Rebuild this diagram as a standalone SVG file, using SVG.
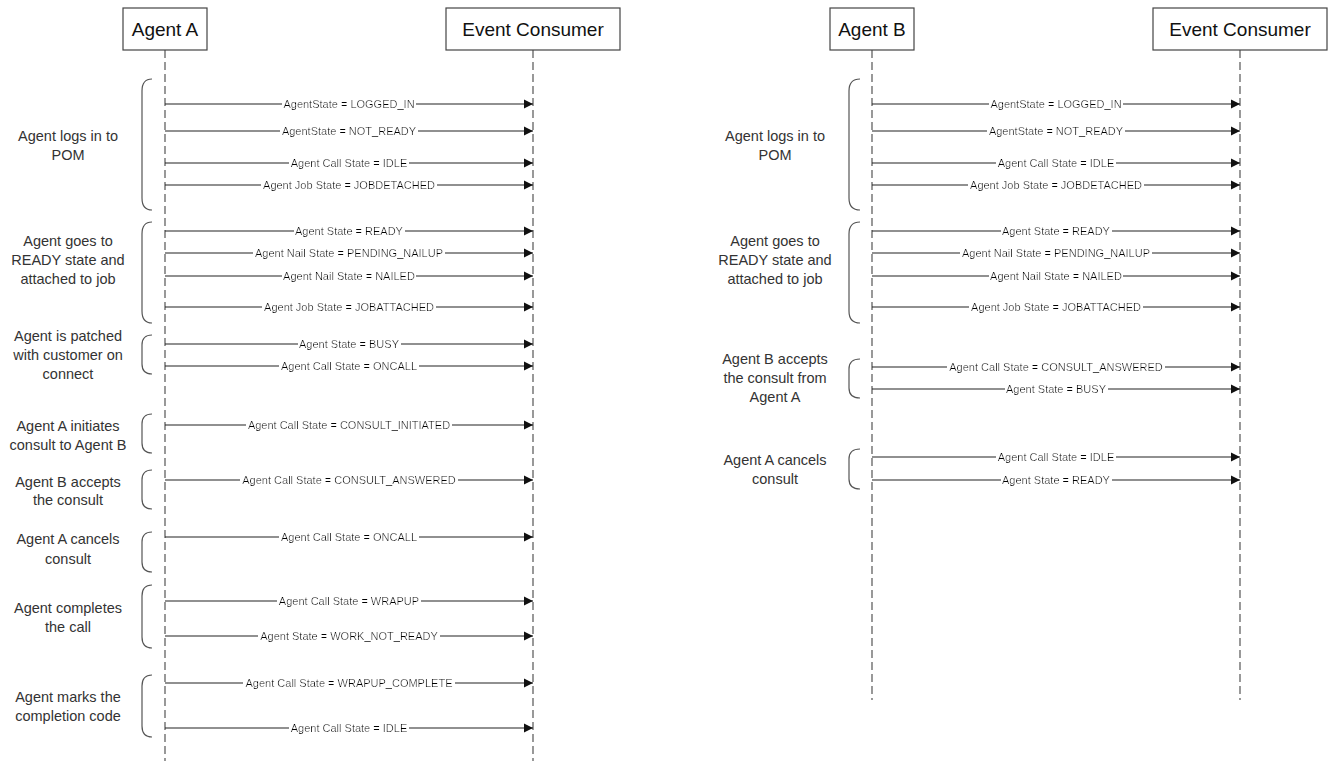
<svg xmlns="http://www.w3.org/2000/svg" width="1334" height="761" viewBox="0 0 1334 761">
  <style>
    .box { fill: #ffffff; stroke: #444444; stroke-width: 1.2; }
    .title { font-family: "Liberation Sans", Arial, sans-serif; font-size: 19px; fill: #111111; text-anchor: middle; }
    .life { stroke: #555555; stroke-width: 1.2; stroke-dasharray: 8 4; fill: none; }
    .msg { stroke: #222222; stroke-width: 1.2; fill: none; marker-end: url(#ah); }
    .lbl { font-family: "Liberation Sans", Arial, sans-serif; font-size: 11px; fill: #000000; text-anchor: middle; filter: url(#knock); }
    .brace { stroke: #555555; stroke-width: 1.2; fill: none; }
    .note { font-family: "Liberation Sans", Arial, sans-serif; font-size: 14.5px; fill: #333333; text-anchor: middle; }
  </style>
  <defs>
    <marker id="ah" markerWidth="10" markerHeight="10" refX="9" refY="5" orient="auto" markerUnits="userSpaceOnUse">
      <path d="M0,0.5 L9,5 L0,9.5 z" fill="#111111"/>
    </marker>
    <!-- white band behind message labels so the arrow line breaks around the text;
         the filter region covers the whole glyph box, only the flood is narrowed -->
    <filter id="knock" x="-0.05" y="-0.3" width="1.1" height="1.6" primitiveUnits="objectBoundingBox">
      <feFlood flood-color="#ffffff" x="-0.008" y="0.2" width="1.016" height="0.6" result="bg"/>
      <feMerge>
        <feMergeNode in="bg"/>
        <feMergeNode in="SourceGraphic"/>
      </feMerge>
    </filter>
  </defs>
  <rect width="1334" height="761" fill="#ffffff"/>

  <!-- lifelines -->
  <g id="lifelines">
    <line class="life" x1="165" y1="50" x2="165" y2="761"/>
    <line class="life" x1="533" y1="50" x2="533" y2="761"/>
    <line class="life" x1="872" y1="50" x2="872" y2="700"/>
    <line class="life" x1="1240" y1="50" x2="1240" y2="700"/>
  </g>

  <!-- participants -->
  <g id="agentA">
    <rect class="box" x="123" y="8" width="84" height="42"/>
    <text class="title" x="165" y="36">Agent A</text>
  </g>
  <g id="consumerA">
    <rect class="box" x="446" y="8" width="174" height="42"/>
    <text class="title" x="533" y="36">Event Consumer</text>
  </g>
  <g id="agentB">
    <rect class="box" x="830" y="8" width="84" height="42"/>
    <text class="title" x="872" y="36">Agent B</text>
  </g>
  <g id="consumerB">
    <rect class="box" x="1153" y="8" width="174" height="42"/>
    <text class="title" x="1240" y="36">Event Consumer</text>
  </g>

  <!-- phase braces and descriptions, Agent A -->
  <g id="phasesA">
    <path class="brace" d="M152,79 Q142,79 142,91 L142,198 Q142,210 152,210"/>
    <path class="brace" d="M152,222 Q142,222 142,234 L142,311 Q142,323 152,323"/>
    <path class="brace" d="M152,335 Q142,335 142,345 L142,364 Q142,374 152,374"/>
    <path class="brace" d="M152,414 Q142,414 142,424 L142,443 Q142,453 152,453"/>
    <path class="brace" d="M152,470 Q142,470 142,480 L142,499 Q142,509 152,509"/>
    <path class="brace" d="M152,532 Q142,532 142,542 L142,562 Q142,572 152,572"/>
    <path class="brace" d="M152,585 Q142,585 142,596 L142,637 Q142,648 152,648"/>
    <path class="brace" d="M152,675 Q142,675 142,686 L142,726 Q142,737 152,737"/>
    <text class="note" x="68" y="141">Agent logs in to</text>
    <text class="note" x="68" y="160">POM</text>
    <text class="note" x="68" y="246">Agent goes to</text>
    <text class="note" x="68" y="265">READY state and</text>
    <text class="note" x="68" y="284">attached to job</text>
    <text class="note" x="68" y="341">Agent is patched</text>
    <text class="note" x="68" y="360">with customer on</text>
    <text class="note" x="68" y="379">connect</text>
    <text class="note" x="68" y="431">Agent A initiates</text>
    <text class="note" x="68" y="450">consult to Agent B</text>
    <text class="note" x="68" y="487">Agent B accepts</text>
    <text class="note" x="68" y="505">the consult</text>
    <text class="note" x="68" y="544">Agent A cancels</text>
    <text class="note" x="68" y="564">consult</text>
    <text class="note" x="68" y="613">Agent completes</text>
    <text class="note" x="68" y="632">the call</text>
    <text class="note" x="68" y="702">Agent marks the</text>
    <text class="note" x="68" y="721">completion code</text>
  </g>

  <!-- phase braces and descriptions, Agent B -->
  <g id="phasesB">
    <path class="brace" d="M860,79 Q849,79 849,91 L849,198 Q849,210 860,210"/>
    <path class="brace" d="M860,222 Q849,222 849,234 L849,311 Q849,323 860,323"/>
    <path class="brace" d="M860,359 Q849,359 849,369 L849,388 Q849,398 860,398"/>
    <path class="brace" d="M860,449 Q849,449 849,459 L849,479 Q849,489 860,489"/>
    <text class="note" x="775" y="141">Agent logs in to</text>
    <text class="note" x="775" y="160">POM</text>
    <text class="note" x="775" y="246">Agent goes to</text>
    <text class="note" x="775" y="265">READY state and</text>
    <text class="note" x="775" y="284">attached to job</text>
    <text class="note" x="775" y="364">Agent B accepts</text>
    <text class="note" x="775" y="383">the consult from</text>
    <text class="note" x="775" y="402">Agent A</text>
    <text class="note" x="775" y="465">Agent A cancels</text>
    <text class="note" x="775" y="484">consult</text>
  </g>

  <!-- messages -->
  <g id="connectors">
    <g id="msgsA">
      <line class="msg" x1="165" y1="104" x2="533" y2="104"/>
      <line class="msg" x1="165" y1="131" x2="533" y2="131"/>
      <line class="msg" x1="165" y1="163" x2="533" y2="163"/>
      <line class="msg" x1="165" y1="185" x2="533" y2="185"/>
      <line class="msg" x1="165" y1="231" x2="533" y2="231"/>
      <line class="msg" x1="165" y1="253" x2="533" y2="253"/>
      <line class="msg" x1="165" y1="276" x2="533" y2="276"/>
      <line class="msg" x1="165" y1="307" x2="533" y2="307"/>
      <line class="msg" x1="165" y1="344" x2="533" y2="344"/>
      <line class="msg" x1="165" y1="366" x2="533" y2="366"/>
      <line class="msg" x1="165" y1="425" x2="533" y2="425"/>
      <line class="msg" x1="165" y1="480" x2="533" y2="480"/>
      <line class="msg" x1="165" y1="537" x2="533" y2="537"/>
      <line class="msg" x1="165" y1="601" x2="533" y2="601"/>
      <line class="msg" x1="165" y1="636" x2="533" y2="636"/>
      <line class="msg" x1="165" y1="683" x2="533" y2="683"/>
      <line class="msg" x1="165" y1="728" x2="533" y2="728"/>
      <text class="lbl" x="349" y="108">AgentState = LOGGED_IN</text>
      <text class="lbl" x="349" y="135">AgentState = NOT_READY</text>
      <text class="lbl" x="349" y="167">Agent Call State = IDLE</text>
      <text class="lbl" x="349" y="189">Agent Job State = JOBDETACHED</text>
      <text class="lbl" x="349" y="235">Agent State = READY</text>
      <text class="lbl" x="349" y="257">Agent Nail State = PENDING_NAILUP</text>
      <text class="lbl" x="349" y="280">Agent Nail State = NAILED</text>
      <text class="lbl" x="349" y="311">Agent Job State = JOBATTACHED</text>
      <text class="lbl" x="349" y="348">Agent State = BUSY</text>
      <text class="lbl" x="349" y="370">Agent Call State = ONCALL</text>
      <text class="lbl" x="349" y="429">Agent Call State = CONSULT_INITIATED</text>
      <text class="lbl" x="349" y="484">Agent Call State = CONSULT_ANSWERED</text>
      <text class="lbl" x="349" y="541">Agent Call State = ONCALL</text>
      <text class="lbl" x="349" y="605">Agent Call State = WRAPUP</text>
      <text class="lbl" x="349" y="640">Agent State = WORK_NOT_READY</text>
      <text class="lbl" x="349" y="687">Agent Call State = WRAPUP_COMPLETE</text>
      <text class="lbl" x="349" y="732">Agent Call State = IDLE</text>
    </g>
    <g id="msgsB">
      <line class="msg" x1="872" y1="104" x2="1240" y2="104"/>
      <line class="msg" x1="872" y1="131" x2="1240" y2="131"/>
      <line class="msg" x1="872" y1="163" x2="1240" y2="163"/>
      <line class="msg" x1="872" y1="185" x2="1240" y2="185"/>
      <line class="msg" x1="872" y1="231" x2="1240" y2="231"/>
      <line class="msg" x1="872" y1="253" x2="1240" y2="253"/>
      <line class="msg" x1="872" y1="276" x2="1240" y2="276"/>
      <line class="msg" x1="872" y1="307" x2="1240" y2="307"/>
      <line class="msg" x1="872" y1="367" x2="1240" y2="367"/>
      <line class="msg" x1="872" y1="389" x2="1240" y2="389"/>
      <line class="msg" x1="872" y1="457" x2="1240" y2="457"/>
      <line class="msg" x1="872" y1="480" x2="1240" y2="480"/>
      <text class="lbl" x="1056" y="108">AgentState = LOGGED_IN</text>
      <text class="lbl" x="1056" y="135">AgentState = NOT_READY</text>
      <text class="lbl" x="1056" y="167">Agent Call State = IDLE</text>
      <text class="lbl" x="1056" y="189">Agent Job State = JOBDETACHED</text>
      <text class="lbl" x="1056" y="235">Agent State = READY</text>
      <text class="lbl" x="1056" y="257">Agent Nail State = PENDING_NAILUP</text>
      <text class="lbl" x="1056" y="280">Agent Nail State = NAILED</text>
      <text class="lbl" x="1056" y="311">Agent Job State = JOBATTACHED</text>
      <text class="lbl" x="1056" y="371">Agent Call State = CONSULT_ANSWERED</text>
      <text class="lbl" x="1056" y="393">Agent State = BUSY</text>
      <text class="lbl" x="1056" y="461">Agent Call State = IDLE</text>
      <text class="lbl" x="1056" y="484">Agent State = READY</text>
    </g>
  </g>
</svg>
